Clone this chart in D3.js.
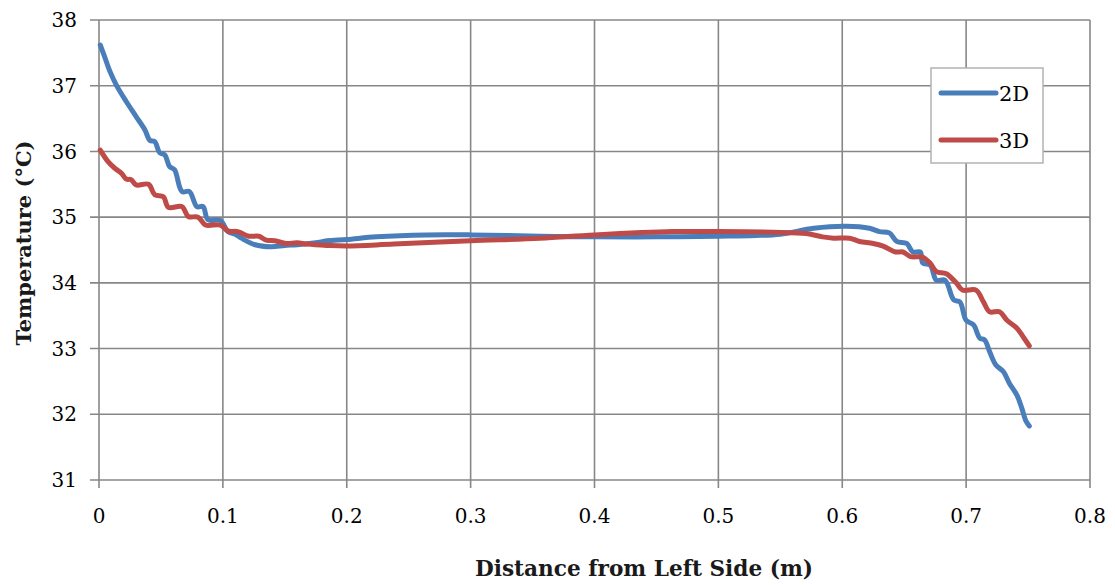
<!DOCTYPE html>
<html>
<head>
<meta charset="utf-8">
<script src="https://cdn.jsdelivr.net/npm/d3@7"></script>
<style>
  body { margin: 0; background: #fff; }
  svg { display: block; }
</style>
</head>
<body>
<div id="chart"></div>
<script>
// DATA
const x2d = [0.001, 0.004, 0.009, 0.014, 0.022, 0.030, 0.037, 0.041, 0.045, 0.049, 0.053, 0.057, 0.061, 0.067, 0.073, 0.079, 0.084, 0.088, 0.098, 0.104, 0.110, 0.115, 0.126, 0.139, 0.150, 0.160, 0.175, 0.184, 0.200, 0.224, 0.264, 0.300, 0.356, 0.400, 0.450, 0.500, 0.530, 0.550, 0.577, 0.603, 0.622, 0.630, 0.638, 0.644, 0.652, 0.657, 0.663, 0.665, 0.671, 0.676, 0.683, 0.690, 0.695, 0.700, 0.706, 0.711, 0.715, 0.719, 0.724, 0.730, 0.735, 0.741, 0.745, 0.748, 0.751];
const t2d = [37.62, 37.47, 37.21, 37.01, 36.76, 36.53, 36.33, 36.17, 36.15, 35.98, 35.95, 35.77, 35.72, 35.39, 35.39, 35.16, 35.16, 34.96, 34.95, 34.78, 34.74, 34.68, 34.58, 34.55, 34.57, 34.58, 34.61, 34.64, 34.66, 34.70, 34.73, 34.73, 34.71, 34.70, 34.70, 34.71, 34.72, 34.74, 34.83, 34.86, 34.83, 34.78, 34.76, 34.63, 34.60, 34.47, 34.47, 34.30, 34.27, 34.04, 34.04, 33.74, 33.71, 33.43, 33.36, 33.16, 33.13, 32.95, 32.75, 32.65, 32.47, 32.29, 32.09, 31.91, 31.82];

const x3d = [0.001, 0.0075, 0.013, 0.018, 0.022, 0.026, 0.030, 0.040, 0.045, 0.052, 0.056, 0.067, 0.072, 0.080, 0.086, 0.098, 0.104, 0.112, 0.121, 0.129, 0.135, 0.142, 0.151, 0.160, 0.168, 0.184, 0.200, 0.238, 0.300, 0.356, 0.400, 0.463, 0.500, 0.544, 0.571, 0.584, 0.593, 0.606, 0.614, 0.625, 0.633, 0.643, 0.649, 0.655, 0.665, 0.671, 0.676, 0.684, 0.692, 0.697, 0.708, 0.714, 0.719, 0.727, 0.733, 0.741, 0.746, 0.751];
const t3d = [36.02, 35.84, 35.74, 35.67, 35.58, 35.57, 35.49, 35.50, 35.34, 35.31, 35.15, 35.16, 35.01, 35.00, 34.88, 34.88, 34.79, 34.78, 34.71, 34.71, 34.65, 34.64, 34.60, 34.61, 34.59, 34.57, 34.56, 34.59, 34.64, 34.68, 34.73, 34.78, 34.78, 34.77, 34.75, 34.70, 34.68, 34.68, 34.63, 34.60, 34.56, 34.47, 34.47, 34.40, 34.39, 34.30, 34.17, 34.14, 34.00, 33.89, 33.89, 33.71, 33.56, 33.56, 33.43, 33.31, 33.18, 33.04];

const xTicks = [0, 0.1, 0.2, 0.3, 0.4, 0.5, 0.6, 0.7, 0.8];
const yTicks = [31, 32, 33, 34, 35, 36, 37, 38];
const seriesNames = ["2D", "3D"];

//DIMENSIONS
const width = 1115,
	height = 585,
	margin = { left: 99, right: 25, top: 20, bottom: 105 };

const svg = d3
	.select("#chart")
	.append("svg")
	.attr("width", width)
	.attr("height", height);

const x = d3.scaleLinear().domain([0, 0.8]).range([margin.left, width - margin.right]);
const y = d3.scaleLinear().domain([31, 38]).range([height - margin.bottom, margin.top]);

const gridColor = "#878787";
const fontFam = "'DejaVu Serif', serif";

//GRID
svg
	.append("g")
	.selectAll("line")
	.data(yTicks)
	.enter()
	.append("line")
	.attr("x1", x(0) - 9)
	.attr("x2", x(0.8))
	.attr("y1", d => y(d))
	.attr("y2", d => y(d))
	.style("stroke", gridColor)
	.style("stroke-width", 1.6);

svg
	.append("g")
	.selectAll("line")
	.data(xTicks)
	.enter()
	.append("line")
	.attr("x1", d => x(d))
	.attr("x2", d => x(d))
	.attr("y1", y(38))
	.attr("y2", y(31) + 8)
	.style("stroke", gridColor)
	.style("stroke-width", 1.6);

//TICK LABELS
svg
	.append("g")
	.selectAll("text")
	.data(yTicks)
	.enter()
	.append("text")
	.attr("x", x(0) - 22)
	.attr("y", d => y(d))
	.attr("dy", "0.36em")
	.attr("text-anchor", "end")
	.style("font-family", fontFam)
	.style("font-size", "20px")
	.style("fill", "#000")
	.text(d => d);

svg
	.append("g")
	.selectAll("text")
	.data(xTicks)
	.enter()
	.append("text")
	.attr("x", d => x(d))
	.attr("y", y(31) + 43)
	.attr("text-anchor", "middle")
	.style("font-family", fontFam)
	.style("font-size", "20px")
	.style("fill", "#000")
	.text(d => d);

//AXIS TITLES
svg
	.append("text")
	.attr("transform", `translate(31, 243) rotate(-90)`)
	.attr("text-anchor", "middle")
	.attr("textLength", 205)
	.attr("lengthAdjust", "spacingAndGlyphs")
	.style("font-family", fontFam)
	.style("font-size", "21px")
	.style("font-weight", "bold")
	.style("fill", "#1a1a1a")
	.text("Temperature (°C)");

svg
	.append("text")
	.attr("x", 644)
	.attr("y", 576)
	.attr("text-anchor", "middle")
	.attr("textLength", 338)
	.attr("lengthAdjust", "spacingAndGlyphs")
	.style("font-family", fontFam)
	.style("font-size", "22px")
	.style("font-weight", "bold")
	.style("fill", "#1a1a1a")
	.text("Distance from Left Side (m)");

//LINES
const line = d3
	.line()
	.x(d => x(d[0]))
	.y(d => y(d[1]))
	.curve(d3.curveCatmullRom.alpha(0.5));

const series = [
	{ name: seriesNames[0], color: "#4a7ebb", pts: d3.zip(x2d, t2d) },
	{ name: seriesNames[1], color: "#be4b48", pts: d3.zip(x3d, t3d) },
];

svg
	.append("g")
	.selectAll("path")
	.data(series)
	.enter()
	.append("path")
	.attr("d", d => line(d.pts))
	.style("fill", "none")
	.style("stroke", d => d.color)
	.style("stroke-width", 5)
	.style("stroke-linejoin", "round")
	.style("stroke-linecap", "round");

//LEGEND
const legend = svg.append("g").attr("transform", "translate(931, 68)");

legend
	.append("rect")
	.attr("width", 112)
	.attr("height", 95)
	.style("fill", "#fff")
	.style("stroke", "#b3b3b3")
	.style("stroke-width", 1.5);

const legendItem = legend
	.selectAll(".legend-item")
	.data(series)
	.enter()
	.append("g")
	.attr("class", "legend-item")
	.attr("transform", (d, i) => `translate(0, ${25 + i * 47})`);

legendItem
	.append("line")
	.attr("x1", 10)
	.attr("x2", 65)
	.style("stroke", d => d.color)
	.style("stroke-width", 5)
	.style("stroke-linecap", "round");

legendItem
	.append("text")
	.attr("x", 68)
	.attr("dy", "0.36em")
	.style("font-family", fontFam)
	.style("font-size", "21px")
	.text(d => d.name);
</script>
</body>
</html>
